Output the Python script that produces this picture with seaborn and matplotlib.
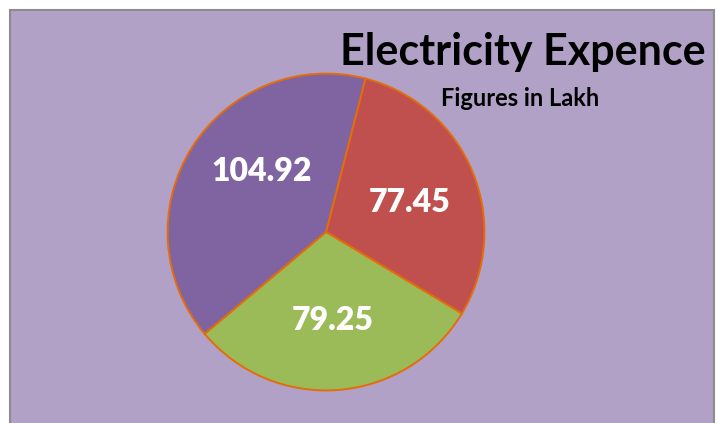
import numpy as np
import seaborn as sns
import matplotlib.pyplot as plt
from matplotlib.patches import Rectangle

# === Data ===
categories = ["Red", "Green", "Purple"]
values = [77.45, 79.25, 104.92]
slice_colors = ["#C0504D", "#9BBB59", "#8064A2"]

title = "Electricity Expence"
subtitle = "Figures in Lakh"

sns.set_style("white")
plt.rcParams["font.family"] = ["Lato", "DejaVu Sans"]

W, H = 719, 423
fig = plt.figure(figsize=(W / 100, H / 100), dpi=100)
fig.patch.set_facecolor("white")

# chart area frame (behind the pie)
frame = Rectangle((10 / W, -0.02), 704 / W, (H - 10) / H + 0.02,
                  transform=fig.transFigure, facecolor="#B1A1C6",
                  edgecolor="#8C8C8C", linewidth=1.5, zorder=-1)
fig.add_artist(frame)

# pie centred at (326, 232) px, radius 160 px
ax = fig.add_axes([(326 - 160) / W, (H - 232 - 160) / H, 320 / W, 320 / H])
ax.set_facecolor("none")
ax.patch.set_alpha(0)

wedges, texts, autotexts = ax.pie(
    values,
    colors=slice_colors,
    startangle=75.6,
    counterclock=False,
    autopct=lambda p: f"{p * sum(values) / 100:.2f}",
    pctdistance=0.56,
    wedgeprops=dict(edgecolor="#E46C0A", linewidth=1.4),
    textprops=dict(color="white", fontsize=23, fontweight="heavy"),
)

# Excel-like label placement: pull the big slice label towards the top
for w, t, shift in zip(wedges, autotexts, [-3, 0, -11]):
    ang = np.deg2rad((w.theta1 + w.theta2) / 2 + shift)
    t.set_position((0.56 * np.cos(ang), 0.56 * np.sin(ang)))

ax.set_xlim(-1.01, 1.01)
ax.set_ylim(-1.01, 1.01)
ax.set_aspect("equal")

fig.text(706 / W, 1 - 65 / H, title, ha="right", va="baseline",
         fontsize=31, fontweight="bold", color="black")
fig.text(520 / W, 1 - 106 / H, subtitle, ha="center", va="baseline",
         fontsize=17, fontweight="bold", color="black")

plt.savefig("out.png", dpi=100)
plt.close()
